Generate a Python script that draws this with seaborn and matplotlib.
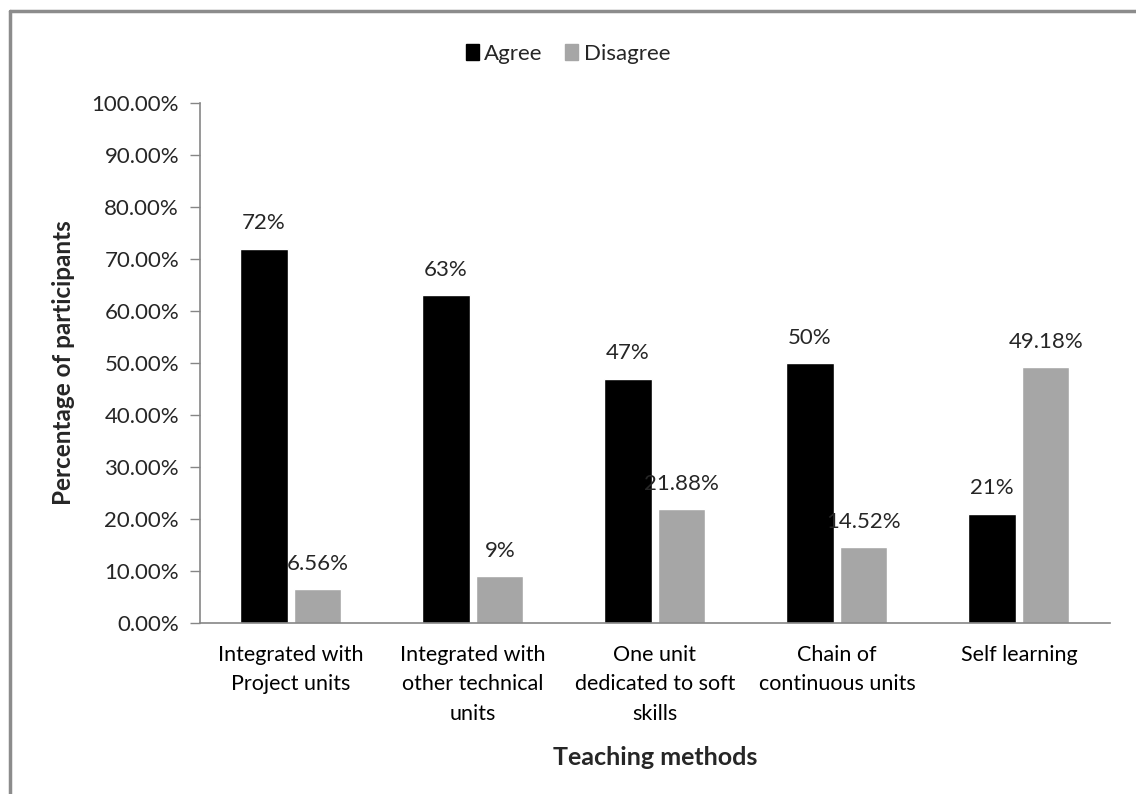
# Teaching methods survey - agree vs disagree, grouped bars
import pandas as pd
import matplotlib
matplotlib.use('Agg')
import matplotlib.pyplot as plt
from matplotlib.lines import Line2D
from matplotlib.patches import Patch
import seaborn as sns

# Data
methods = ['Integrated with\nProject units',
           'Integrated with\nother technical\nunits',
           'One unit\ndedicated to soft\nskills',
           'Chain of\ncontinuous units',
           'Self learning']
agree = [72, 63, 47, 50, 21]
disagree = [6.56, 9, 21.88, 14.52, 49.18]
agree_labels = ['72%', '63%', '47%', '50%', '21%']
disagree_labels = ['6.56%', '9%', '21.88%', '14.52%', '49.18%']
yticks = [0, 10, 20, 30, 40, 50, 60, 70, 80, 90, 100]

df = pd.DataFrame({'method': methods * 2,
                   'value': agree + disagree,
                   'response': ['Agree'] * 5 + ['Disagree'] * 5})

sns.set_style('white')
plt.rcParams['font.family'] = ['Lato', 'DejaVu Sans']

fig = plt.figure(figsize=(11.36, 7.94), dpi=100)
ax = fig.add_axes([0.176, 0.2154, 0.801, 0.6549])

sns.barplot(data=df, x='method', y='value', hue='response',
            palette=['black', '#A6A6A6'], width=0.59, gap=0.12,
            saturation=1, ax=ax, legend=False)

# value labels above bars
ax.bar_label(ax.containers[0], labels=agree_labels, padding=11,
             fontsize=16, color='#262626')
ax.bar_label(ax.containers[1], labels=disagree_labels, padding=11,
             fontsize=16, color='#262626')

ax.set_ylim(0, 100)
ax.set_xlim(-0.5, 4.5)
ax.set_yticks(yticks)
ax.set_yticklabels([f'{t:.2f}%' for t in yticks], fontsize=16, color='#262626')
ax.tick_params(axis='y', left=True, length=7, width=1, color='#868686', pad=8)
ax.tick_params(axis='x', bottom=False, labelsize=15.5, pad=12, labelcolor='black')
for lab in ax.get_xticklabels():
    lab.set_linespacing(1.6)

sns.despine(ax=ax)
for s in ['left', 'bottom']:
    ax.spines[s].set_color('#868686')
    ax.spines[s].set_linewidth(1.2)

ax.set_xlabel('Teaching methods', fontsize=18, fontweight='bold', labelpad=16)
ax.set_ylabel('Percentage of participants', fontsize=17.5, fontweight='bold', labelpad=12)

handles = [Patch(color='black', label='Agree'), Patch(color='#A6A6A6', label='Disagree')]
fig.legend(handles=handles, loc='upper center', bbox_to_anchor=(0.5, 0.97),
           ncol=2, frameon=False, fontsize=16, handlelength=0.6, handleheight=0.7,
           handletextpad=0.25, columnspacing=1.0)

# chart-area border (top and left edges visible in the reference)
fig.add_artist(Line2D([0.009, 1.0], [0.986, 0.986], transform=fig.transFigure,
                      color='#8C8C8C', lw=2.5))
fig.add_artist(Line2D([0.009, 0.009], [0.0, 0.986], transform=fig.transFigure,
                      color='#8C8C8C', lw=2.5))

fig.savefig('out.png', dpi=100)
